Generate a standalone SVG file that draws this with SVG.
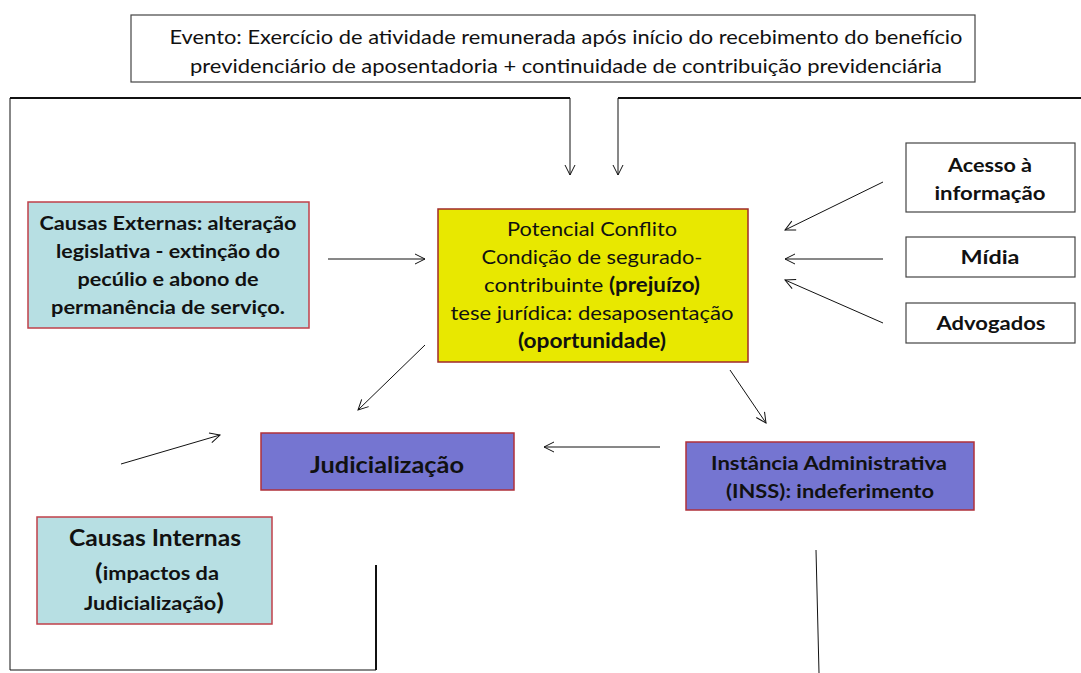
<svg xmlns="http://www.w3.org/2000/svg" width="1081" height="673" viewBox="0 0 1081 673">
<style>
text{font-family:Lato,"Open Sans","Liberation Sans",sans-serif;fill:#111;text-anchor:middle}
.b{font-weight:bold}
.wbox{fill:#fff;stroke:#444;stroke-width:1.2}
.cyan{fill:#b7dfe3;stroke:#c0404a;stroke-width:1.5}
.purp{fill:#7575d1;stroke:#b0303a;stroke-width:1.5}
.yel{fill:#e8e800;stroke:#a02a2a;stroke-width:1.5}
.thin{stroke:#111;stroke-width:1;fill:none}
.thick{stroke:#111;stroke-width:2;fill:none}
</style>
<defs>
<marker id="ah" viewBox="0 0 12 12" refX="11" refY="6" markerWidth="12" markerHeight="12" markerUnits="userSpaceOnUse" orient="auto">
<path d="M1,1 L11,6 L1,11" fill="none" stroke="#111" stroke-width="1"/>
</marker>
</defs>
<rect width="1081" height="673" fill="#fff"/>
<g id="evento">
<rect class="wbox" x="131" y="15" width="844" height="67"/>
<text x="566" y="44" font-size="19" textLength="793" lengthAdjust="spacingAndGlyphs">Evento: Exercício de atividade remunerada após início do recebimento do benefício</text>
<text x="566" y="73" font-size="19" textLength="752" lengthAdjust="spacingAndGlyphs">previdenciário de aposentadoria + continuidade de contribuição previdenciária</text>
</g>
<g id="causas-externas">
<rect class="cyan" x="28" y="202" width="281" height="126"/>
<text class="b" x="168" y="230" font-size="19" textLength="257" lengthAdjust="spacingAndGlyphs">Causas Externas: alteração</text>
<text class="b" x="168" y="258" font-size="19" textLength="224" lengthAdjust="spacingAndGlyphs">legislativa - extinção do</text>
<text class="b" x="168" y="286" font-size="19" textLength="181" lengthAdjust="spacingAndGlyphs">pecúlio e abono de</text>
<text class="b" x="168" y="314" font-size="19" textLength="234" lengthAdjust="spacingAndGlyphs">permanência de serviço.</text>
</g>
<g id="potencial-conflito">
<rect class="yel" x="438" y="209" width="310" height="153"/>
<text x="592" y="236" font-size="20" textLength="170" lengthAdjust="spacingAndGlyphs">Potencial Conflito</text>
<text x="592" y="264" font-size="20" textLength="221" lengthAdjust="spacingAndGlyphs">Condição de segurado-</text>
<text x="592" y="292" font-size="20" textLength="216" lengthAdjust="spacingAndGlyphs">contribuinte <tspan class="b">(prejuízo)</tspan></text>
<text x="592" y="320" font-size="20" textLength="283" lengthAdjust="spacingAndGlyphs">tese jurídica: desaposentação</text>
<text class="b" x="592" y="348" font-size="20" textLength="148" lengthAdjust="spacingAndGlyphs">(oportunidade)</text>
</g>
<g id="acesso">
<rect class="wbox" x="906" y="143" width="169" height="69"/>
<text class="b" x="990" y="172" font-size="19" textLength="84" lengthAdjust="spacingAndGlyphs">Acesso à</text>
<text class="b" x="990" y="200" font-size="19" textLength="111" lengthAdjust="spacingAndGlyphs">informação</text>
</g>
<g id="midia">
<rect class="wbox" x="906" y="237" width="169" height="40"/>
<text class="b" x="990" y="264" font-size="19" textLength="59" lengthAdjust="spacingAndGlyphs">Mídia</text>
</g>
<g id="advogados">
<rect class="wbox" x="906" y="303" width="169" height="40"/>
<text class="b" x="991" y="330" font-size="19" textLength="109" lengthAdjust="spacingAndGlyphs">Advogados</text>
</g>
<g id="judicializacao">
<rect class="purp" x="261" y="433" width="253" height="57"/>
<text class="b" x="387" y="473" font-size="22" textLength="154" lengthAdjust="spacingAndGlyphs">Judicialização</text>
</g>
<g id="instancia">
<rect class="purp" x="686" y="442" width="288" height="68"/>
<text class="b" x="829" y="470" font-size="19" textLength="236" lengthAdjust="spacingAndGlyphs">Instância Administrativa</text>
<text class="b" x="830" y="498" font-size="19" textLength="208" lengthAdjust="spacingAndGlyphs">(INSS): indeferimento</text>
</g>
<g id="causas-internas">
<rect class="cyan" x="37" y="517" width="235" height="107"/>
<text class="b" x="155" y="546" font-size="22" textLength="172" lengthAdjust="spacingAndGlyphs">Causas Internas</text>
<text class="b" x="157" y="580" font-size="18" textLength="124" lengthAdjust="spacingAndGlyphs"><tspan font-size="23">(</tspan>impactos da</text>
<text class="b" x="154" y="610" font-size="18" textLength="140" lengthAdjust="spacingAndGlyphs">Judicialização<tspan font-size="23">)</tspan></text>
</g>
<g id="connectors">
<polyline class="thick" points="570,98 10,98"/>
<polyline class="thin" points="10,98 10,670 376,670"/>
<polyline class="thick" points="376,670 376,565"/>
<line class="thin" x1="570" y1="98" x2="570" y2="175" marker-end="url(#ah)"/>
<polyline class="thick" points="1081,98 618,98"/>
<line class="thin" x1="618" y1="98" x2="618" y2="175" marker-end="url(#ah)"/>
<line class="thin" x1="328" y1="259" x2="425" y2="259" marker-end="url(#ah)"/>
<line class="thin" x1="883" y1="182" x2="785" y2="230" marker-end="url(#ah)"/>
<line class="thin" x1="883" y1="259" x2="785" y2="259" marker-end="url(#ah)"/>
<line class="thin" x1="883" y1="323" x2="785" y2="280" marker-end="url(#ah)"/>
<line class="thin" x1="425" y1="345" x2="358" y2="410" marker-end="url(#ah)"/>
<line class="thin" x1="730" y1="370" x2="766" y2="423" marker-end="url(#ah)"/>
<line class="thin" x1="121" y1="464" x2="220" y2="435" marker-end="url(#ah)"/>
<line class="thin" x1="660" y1="447" x2="544" y2="447" marker-end="url(#ah)"/>
<line class="thin" x1="816" y1="550" x2="819" y2="673"/>
</g>
</svg>
